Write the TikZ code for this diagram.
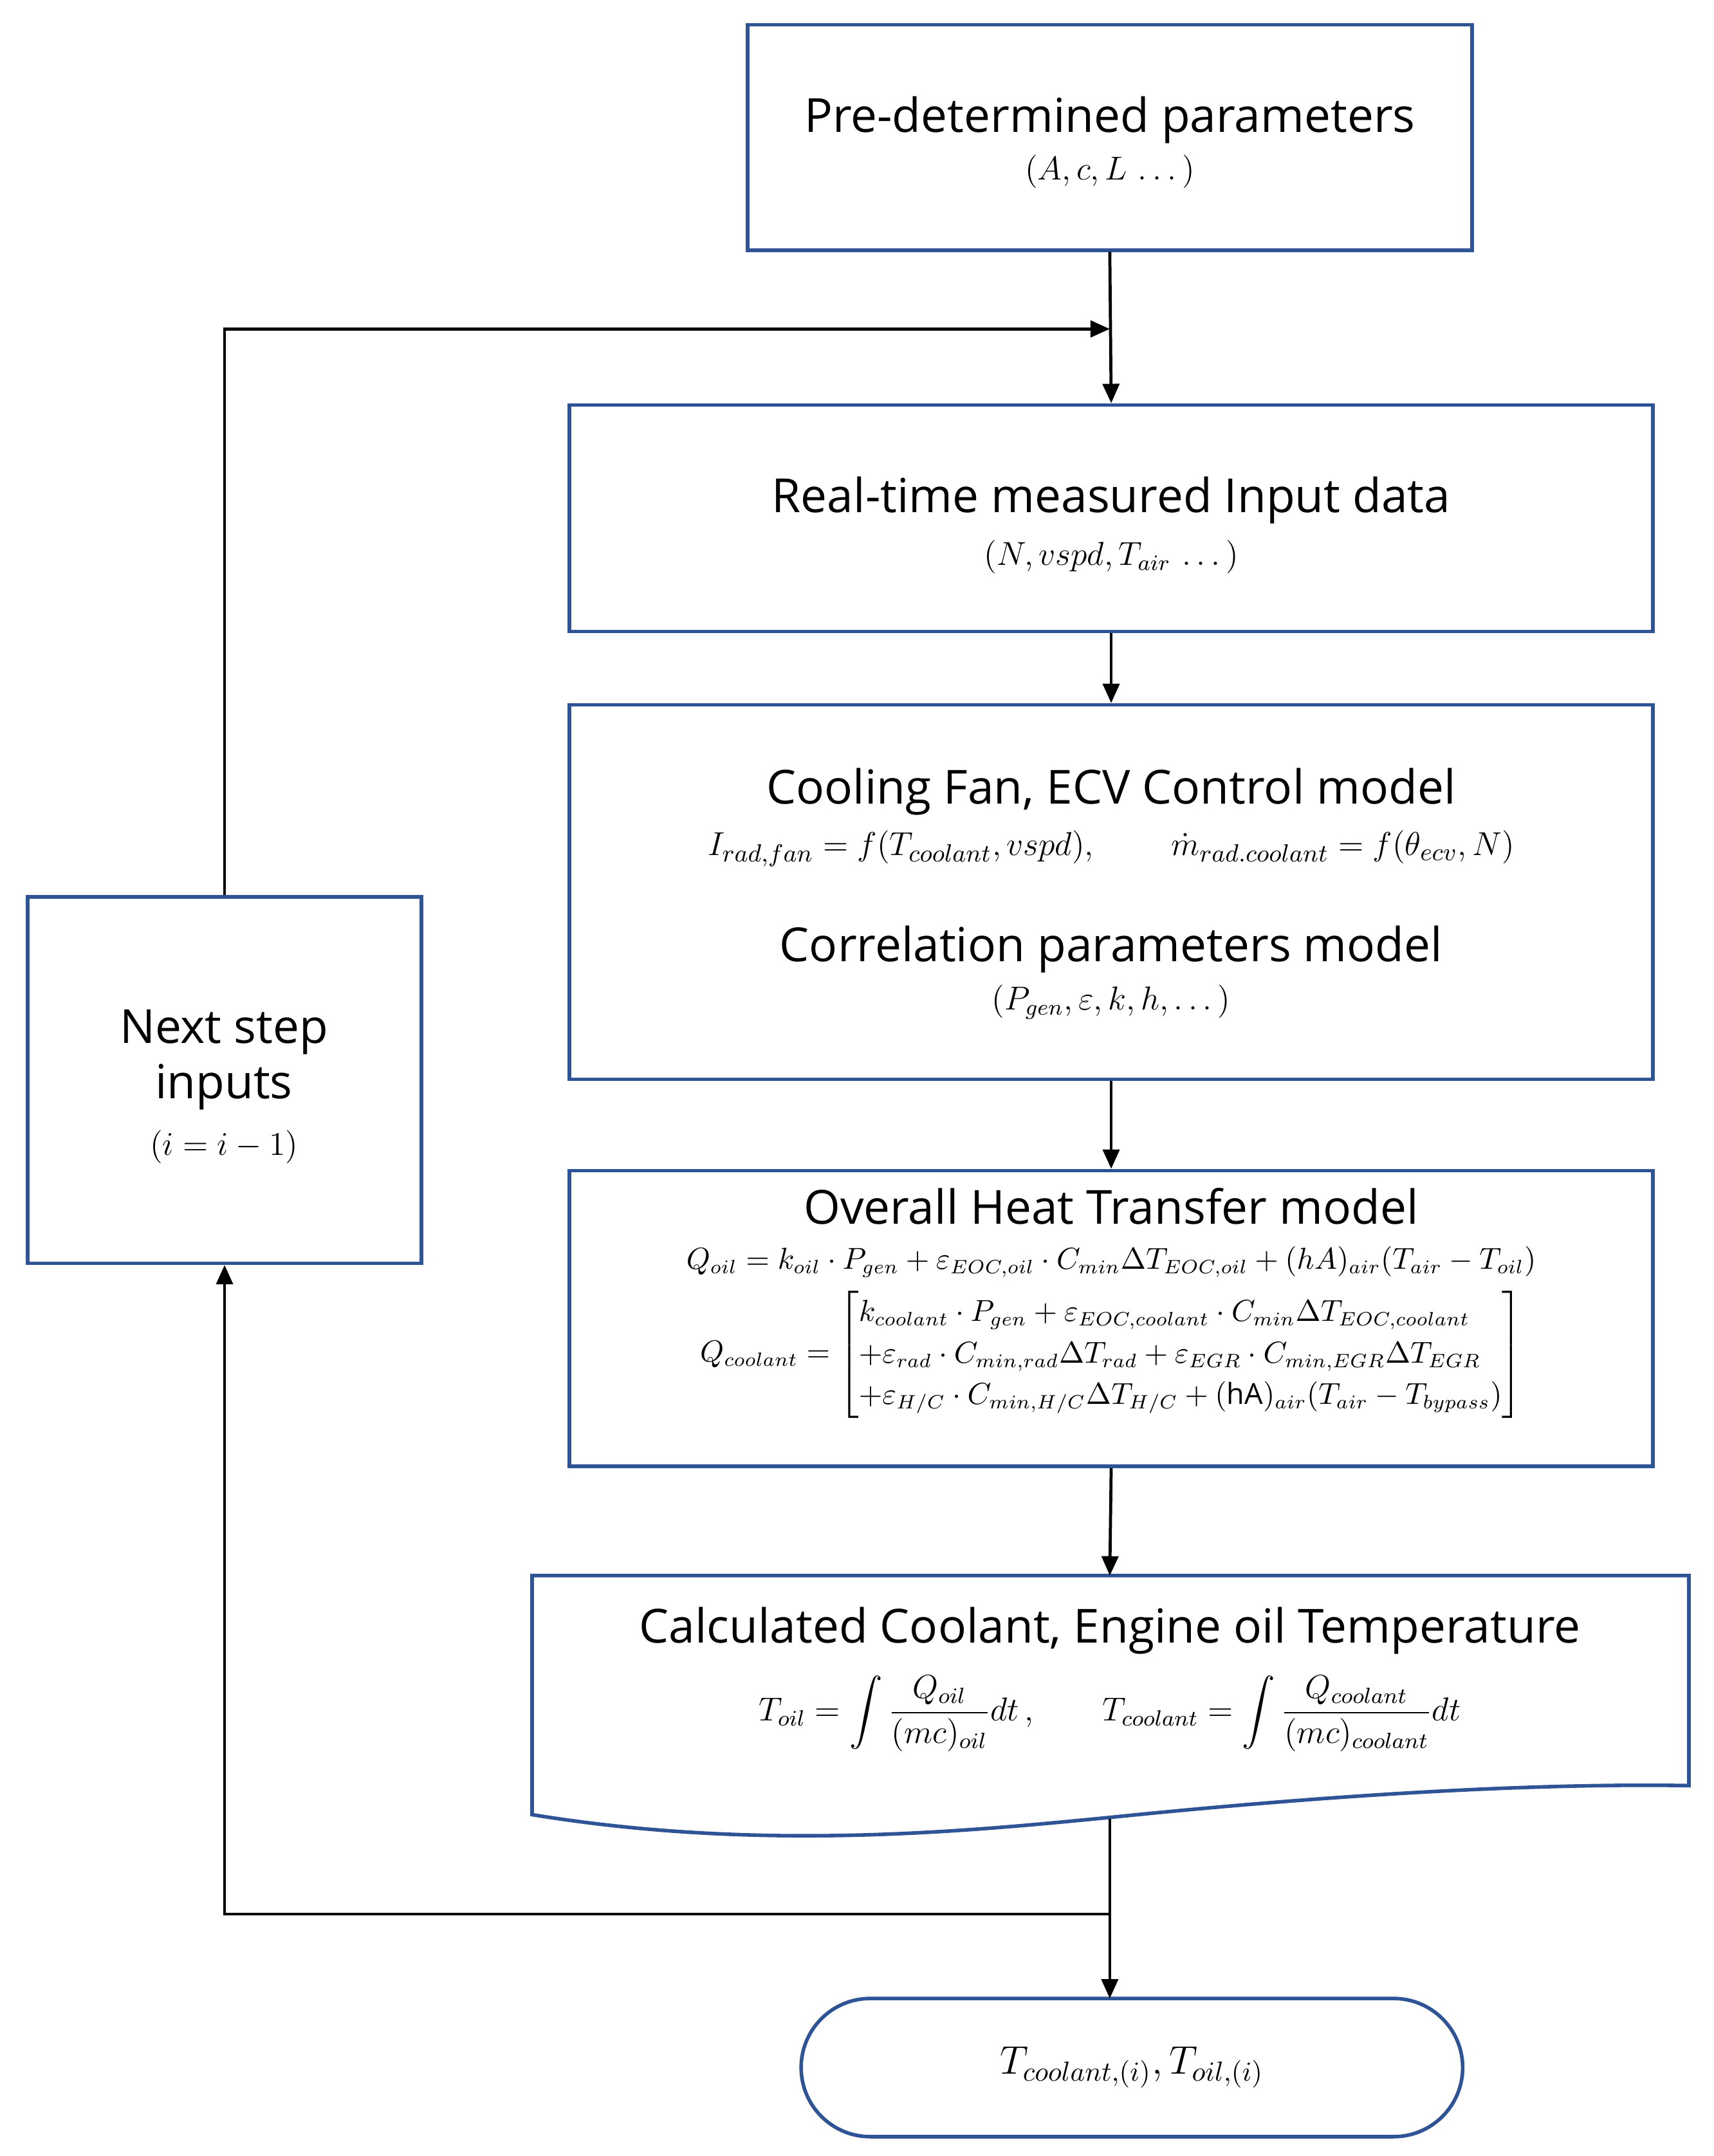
\documentclass[tikz,border=0pt]{standalone}
\usepackage{amsmath}
\usepackage{fontspec}
\setmainfont{Open Sans}
\usetikzlibrary{arrows.meta,shapes.misc}
\definecolor{bx}{RGB}{47,84,150}
\begin{document}
\begin{tikzpicture}[x=0.5pt,y=-0.5pt,
 box/.style={draw=bx,line width=1.3pt,inner sep=0pt},
 ttl/.style={font=\fontsize{17}{20}\selectfont},
 sub/.style={font=\fontsize{12}{14}\selectfont},
 arr/.style={-{Triangle[length=7pt,width=6pt]},line width=1.1pt}]
\useasboundingbox (0,0) rectangle (1240,1560);
\node[box,minimum width=262pt,minimum height=81.5pt] (b1) at (803,99.5) {};
\node[ttl] (t1) at (803,87) {Pre-determined parameters};
\node[sub] (s1) at (803,124) {$(A,c,L\,\dots)$};
\node[box,minimum width=392pt,minimum height=82pt] (b2) at (804,375) {};
\node[ttl] (t2) at (804,362) {Real-time measured Input data};
\node[sub] (s2) at (804,403) {$(N,vspd,T_{air}\,\dots)$};
\node[box,minimum width=392pt,minimum height=135.5pt] (b3) at (804,645.5) {};
\node[ttl] (t3) at (804,573) {Cooling Fan, ECV Control model};
\node[font=\fontsize{13}{15}\selectfont] (s3) at (804,614) {$I_{rad,fan}=f(T_{coolant},vspd),\qquad \dot m_{rad.coolant}=f(\theta_{ecv},N)$};
\node[ttl] (t3b) at (804,687) {Correlation parameters model};
\node[sub] (s3b) at (804,725) {$(P_{gen},\varepsilon,k,h,\dots)$};
\node[box,minimum width=392pt,minimum height=107pt] (b4) at (804,954) {};
\node[ttl] (t4) at (804,873) {Overall Heat Transfer model};
\node[font=\fontsize{10.5}{12}\selectfont] (e4) at (804,913) {$Q_{oil}=k_{oil}\cdot P_{gen}+\varepsilon_{EOC,oil}\cdot C_{min}\Delta T_{EOC,oil}+(hA)_{air}(T_{air}-T_{oil})$};
\node[font=\fontsize{10.5}{12}\selectfont] (m4) at (804,980) {\renewcommand{\arraystretch}{1.25}$Q_{coolant}=\left[\begin{array}{@{}l@{}}k_{coolant}\cdot P_{gen}+\varepsilon_{EOC,coolant}\cdot C_{min}\Delta T_{EOC,coolant}\\ +\varepsilon_{rad}\cdot C_{min,rad}\Delta T_{rad}+\varepsilon_{EGR}\cdot C_{min,EGR}\Delta T_{EGR}\\ +\varepsilon_{H/C}\cdot C_{min,H/C}\Delta T_{H/C}+(\mathrm{hA})_{air}(T_{air}-T_{bypass})\end{array}\right]$};
\draw[draw=bx,line width=1.3pt] (385,1140) -- (1222,1140) -- (1222,1292)
  .. controls (1100,1290) and (950,1300) .. (803,1315)
  .. controls (700,1325) and (550,1340) .. (385,1313) -- cycle;
\coordinate (b5s) at (803,1316);
\node[ttl] (t5) at (803,1180) {Calculated Coolant, Engine oil Temperature};
\node[font=\fontsize{11.5}{13}\selectfont] (e5) at (803,1240) {$T_{oil}=\displaystyle\int\frac{Q_{oil}}{(mc)_{oil}}dt\,,\qquad T_{coolant}=\int\frac{Q_{coolant}}{(mc)_{coolant}}dt$};
\node[draw=bx,line width=1.3pt,rounded rectangle,minimum width=246pt,minimum height=50pt] (term) at (819,1496) {\fontsize{14}{16}\selectfont$T_{coolant,(i)},T_{oil,(i)}$};
\node[box,minimum width=142.5pt,minimum height=132.5pt] (nx) at (162.5,781.5) {};
\node[ttl,align=center] (tn) at (162,767) {Next step\\inputs};
\node[sub] (sn) at (162,830) {$(i=i-1)$};
\coordinate (join) at (803,238);
\coordinate (br) at (803,1385);
\draw[arr] (b1.south) -- (b2.north);
\draw[arr] (b2.south) -- (b3.north);
\draw[arr] (b3.south) -- (b4.north);
\draw[arr] (b4.south) -- (803,1140);
\draw[arr] (b5s) -- (803,1446);
\draw[arr] (br) -| (nx.south);
\draw[arr] (nx.north) |- (join);
\end{tikzpicture}
\end{document}
